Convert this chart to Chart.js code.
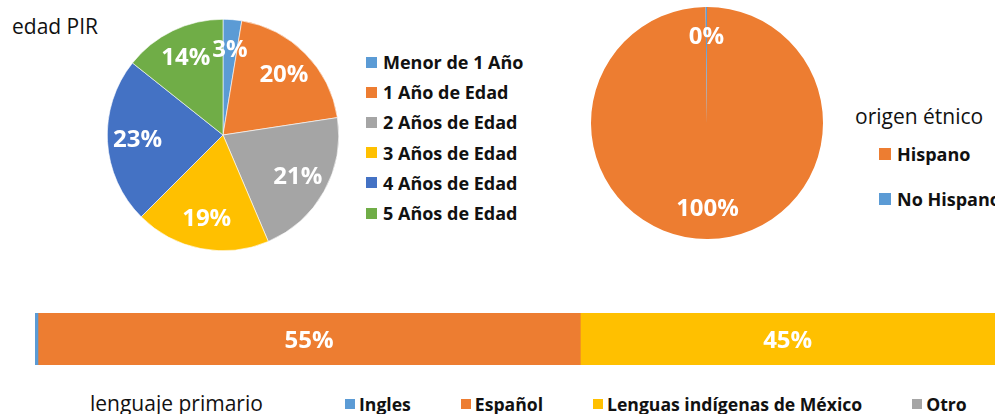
<!DOCTYPE html>
<html>
<head>
<meta charset="utf-8">
<script src="https://cdn.jsdelivr.net/npm/chart.js@4"></script>
<style>
    body { margin: 0; width: 995px; height: 414px; overflow: hidden; background: #fff; font-family: 'Open Sans', sans-serif; position: relative; }
    canvas, .box { position: absolute; }
    .title { position: absolute; font-size: 21px; color: #111; white-space: nowrap; line-height: 28px; }
    .item { display: flex; align-items: center; font-weight: 700; font-size: 18px; color: #111; white-space: nowrap; }
    .sq { display: inline-block; margin-right: 6px; }
    #lang-legend .item { font-size: 17.6px; }
    #lang-legend .sq { margin-right: 4px; }
</style>
</head>
<body>
<div class="title" style="left:12px; top:12px;">edad PIR</div>
<canvas id="age-chart" width="232" height="232" style="left:107px; top:19px;"></canvas>
<div class="box" id="age-legend" style="left:366px; top:47px;"></div>

<canvas id="ethnic-chart" width="232" height="232" style="left:591px; top:7px;"></canvas>
<div class="title" style="left:855px; top:102px;">origen étnico</div>
<div class="box" id="ethnic-legend" style="left:879px; top:131px;"></div>

<canvas id="lang-chart" width="960" height="52" style="left:35px; top:313px;"></canvas>
<div class="title" style="left:90px; top:389px;">lenguaje primario</div>
<div class="box" id="lang-legend" style="left:345px; top:390px; display:flex; gap:50px;"></div>

<script>
// edad PIR
const ageLabels = ['Menor de 1 Año', '1 Año de Edad', '2 Años de Edad', '3 Años de Edad', '4 Años de Edad', '5 Años de Edad'];
const ageValues = [2.6, 20, 21, 18.9, 23.2, 14.3];
const ageColors = ['#5B9BD5', '#ED7D31', '#A5A5A5', '#FFC000', '#4472C4', '#70AD47'];

// origen étnico
const ethnicLabels = ['Hispano', 'No Hispano'];
const ethnicValues = [99.8, 0.2];
const ethnicColors = ['#ED7D31', '#5B9BD5'];

// lenguaje primario
const langLabels = ['Ingles', 'Español', 'Lenguas indígenas de México', 'Otro'];
const langValues = [0.3, 54.8, 44.9, 0];
const langColors = ['#5B9BD5', '#ED7D31', '#FFC000', '#A5A5A5'];

Chart.defaults.font.family = "'Open Sans', sans-serif";
Chart.defaults.animation = false;

// percent labels inside the pie slices
const pieLabels = {
    id: 'pieLabels',
    afterDatasetsDraw(chart) {
        const ctx = chart.ctx;
        const meta = chart.getDatasetMeta(0);
        const data = chart.data.datasets[0].data;
        const total = data.reduce((a, b) => a + b, 0);
        ctx.save();
        ctx.font = "700 24px 'Open Sans'";
        ctx.fillStyle = '#fff';
        ctx.textAlign = 'center';
        ctx.textBaseline = 'middle';
        meta.data.forEach((arc, i) => {
            const mid = (arc.startAngle + arc.endAngle) / 2;
            const r = arc.outerRadius * 0.74;
            const x = arc.x + Math.cos(mid) * r;
            const y = arc.y + Math.sin(mid) * r;
            ctx.fillText(Math.round(data[i] / total * 100) + '%', x, y);
        });
        ctx.restore();
    }
};

// percent labels centred on the visible part of each bar
const barLabels = {
    id: 'barLabels',
    afterDatasetsDraw(chart) {
        const ctx = chart.ctx;
        const area = chart.chartArea;
        ctx.save();
        ctx.font = "700 24px 'Open Sans'";
        ctx.fillStyle = '#fff';
        ctx.textAlign = 'center';
        ctx.textBaseline = 'middle';
        chart.data.datasets.forEach((ds, i) => {
            const bar = chart.getDatasetMeta(i).data[0];
            const left = Math.max(Math.min(bar.base, bar.x), area.left);
            const right = Math.min(Math.max(bar.base, bar.x), area.right);
            if (right - left < 20) return;
            ctx.fillText(Math.round(ds.data[0]) + '%', (left + right) / 2, bar.y + 2);
        });
        ctx.restore();
    }
};

function pieOptions() {
    return {
        responsive: false,
        layout: { padding: 0 },
        plugins: { legend: { display: false }, tooltip: { enabled: false } }
    };
}

new Chart(document.getElementById('age-chart').getContext('2d'), {
    type: 'pie',
    data: {
        labels: ageLabels,
        datasets: [{ data: ageValues, backgroundColor: ageColors, borderColor: '#fff', borderWidth: 0.6 }]
    },
    options: pieOptions(),
    plugins: [pieLabels]
});

new Chart(document.getElementById('ethnic-chart').getContext('2d'), {
    type: 'pie',
    data: {
        labels: ethnicLabels,
        datasets: [{ data: ethnicValues, backgroundColor: ethnicColors, borderWidth: 0 }]
    },
    options: pieOptions(),
    plugins: [pieLabels]
});

new Chart(document.getElementById('lang-chart').getContext('2d'), {
    type: 'bar',
    data: {
        labels: ['lenguaje primario'],
        datasets: langLabels.map((name, i) => ({
            label: name,
            data: [langValues[i]],
            backgroundColor: langColors[i],
            barPercentage: 1,
            categoryPercentage: 1
        }))
    },
    options: {
        responsive: false,
        indexAxis: 'y',
        layout: { padding: 0 },
        scales: {
            x: { stacked: true, min: 0, max: 97, display: false },
            y: { stacked: true, display: false }
        },
        plugins: { legend: { display: false }, tooltip: { enabled: false } }
    },
    plugins: [barLabels]
});

// legends
function addItem(box, text, color, size, height) {
    const item = document.createElement('div');
    item.className = 'item';
    item.style.height = height + 'px';
    const sq = document.createElement('span');
    sq.className = 'sq';
    sq.style.width = size + 'px';
    sq.style.height = size + 'px';
    sq.style.background = color;
    item.appendChild(sq);
    item.appendChild(document.createTextNode(text));
    box.appendChild(item);
}

const ageLegend = document.getElementById('age-legend');
ageLabels.forEach((l, i) => addItem(ageLegend, l, ageColors[i], 11, 30.2));

const ethnicLegend = document.getElementById('ethnic-legend');
ethnicLabels.forEach((l, i) => addItem(ethnicLegend, l, ethnicColors[i], 12, 45));

const langLegend = document.getElementById('lang-legend');
langLabels.forEach((l, i) => addItem(langLegend, l, langColors[i], 10, 28));
</script>
</body>
</html>
